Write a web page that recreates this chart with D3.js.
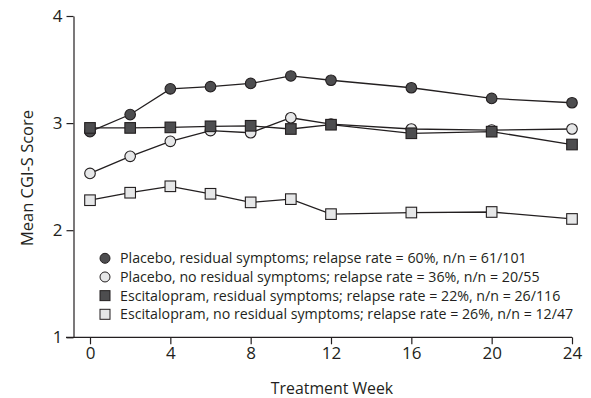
<!DOCTYPE html>
<html>
<head>
<meta charset="utf-8">
<script src="https://cdn.jsdelivr.net/npm/d3@7"></script>
<style>
  body { margin: 0; background: #fff; }
  text { font-family: "Open Sans", "Noto Sans", sans-serif; fill: #231f20; }
</style>
</head>
<body>
<svg id="chart" width="591" height="398"></svg>
<script>
// values
const weeks = [0, 2, 4, 6, 8, 10, 12, 16, 20, 24];
const placeboRes   = [2.92, 3.08, 3.32, 3.34, 3.37, 3.44, 3.40, 3.33, 3.23, 3.19];
const placeboNoRes = [2.53, 2.69, 2.83, 2.93, 2.91, 3.05, 2.99, 2.945, 2.935, 2.945];
const escRes       = [2.955, 2.955, 2.96, 2.97, 2.975, 2.945, 2.985, 2.905, 2.92, 2.80];
const escNoRes     = [2.28, 2.35, 2.41, 2.34, 2.26, 2.29, 2.15, 2.165, 2.17, 2.105];

const xTicks = [0, 4, 8, 12, 16, 20, 24];
const yTicks = [1, 2, 3, 4];

const seriesNames = [
  'Placebo, residual symptoms; relapse rate = 60%, n/n = 61/101',
  'Placebo, no residual symptoms; relapse rate = 36%, n/n = 20/55',
  'Escitalopram, residual symptoms; relapse rate = 22%, n/n = 26/116',
  'Escitalopram, no residual symptoms; relapse rate = 26%, n/n = 12/47'
];

const dark = '#4d4d4f', light = '#e6e7e8', ink = '#231f20';

const series = [
  {name: seriesNames[0], values: placeboRes,   shape: 'circle', fill: dark},
  {name: seriesNames[1], values: placeboNoRes, shape: 'circle', fill: light},
  {name: seriesNames[2], values: escRes,       shape: 'square', fill: dark},
  {name: seriesNames[3], values: escNoRes,     shape: 'square', fill: light}
];

const svg = d3.select('#chart');

const x = d3.scaleLinear().domain([0, 24]).range([90, 572]);
const y = d3.scaleLinear().domain([1, 4]).range([337.3, 16]);
const axisX = 73.5;

// x axis (line runs a little left of the y axis)
const gx = svg.append('g')
    .attr('transform', 'translate(0,' + y(1) + ')')
    .call(d3.axisBottom(x).tickValues(xTicks).tickSize(7).tickPadding(3).tickSizeOuter(0));
gx.select('.domain').attr('d', 'M66,0H' + x(24));

// y axis
const gy = svg.append('g')
    .attr('transform', 'translate(' + axisX + ',0)')
    .call(d3.axisLeft(y).tickValues(yTicks).tickFormat(d3.format('d')).tickSize(7).tickPadding(4).tickSizeOuter(0));

svg.selectAll('.domain, .tick line').attr('stroke', ink).attr('stroke-width', 1.2);
svg.selectAll('.tick text').attr('font-size', 17).attr('fill', ink)
    .style('font-family', '"Open Sans", sans-serif');

// lines + markers
const line = d3.line()
    .x((d, i) => x(weeks[i]))
    .y(d => y(d));

series.forEach(s => {
  const g = svg.append('g');
  g.append('path')
    .attr('d', line(s.values))
    .attr('fill', 'none')
    .attr('stroke', ink)
    .attr('stroke-width', 1.3);

  const pts = g.selectAll('.pt').data(s.values).enter();
  if (s.shape === 'circle') {
    pts.append('circle')
      .attr('cx', (d, i) => x(weeks[i]))
      .attr('cy', d => y(d))
      .attr('r', 5.3)
      .attr('fill', s.fill)
      .attr('stroke', ink)
      .attr('stroke-width', 1.1);
  } else {
    pts.append('rect')
      .attr('x', (d, i) => x(weeks[i]) - 5.3)
      .attr('y', d => y(d) - 5.3)
      .attr('width', 10.6)
      .attr('height', 10.6)
      .attr('fill', s.fill)
      .attr('stroke', ink)
      .attr('stroke-width', 1.1);
  }
});

// legend
const legend = svg.append('g');
const rowY = d3.scaleLinear().domain([0, 3]).range([258.3, 314.3]);
series.forEach((s, i) => {
  const cy = rowY(i);
  if (s.shape === 'circle') {
    legend.append('circle').attr('cx', 105).attr('cy', cy).attr('r', 5)
      .attr('fill', s.fill).attr('stroke', ink).attr('stroke-width', 1);
  } else {
    legend.append('rect').attr('x', 100).attr('y', cy - 5).attr('width', 10).attr('height', 10)
      .attr('fill', s.fill).attr('stroke', ink).attr('stroke-width', 1);
  }
  legend.append('text')
    .attr('class', 'leg')
    .attr('x', 120)
    .attr('y', cy + 5)
    .attr('font-size', 14)
    .text(s.name);
});

// axis titles
const xTitle = svg.append('text')
  .attr('x', 332)
  .attr('y', 394)
  .attr('text-anchor', 'middle')
  .attr('font-size', 16)
  .text('Treatment Week');

const yTitle = svg.append('text')
  .attr('transform', 'translate(33,178) rotate(-90)')
  .attr('text-anchor', 'middle')
  .attr('font-size', 16)
  .text('Mean CGI-S Score');

// size text so its width matches what the figure shows
function fitAll() {
  const lastRow = legend.selectAll('.leg').filter((d, i) => i === 3);
  const w = lastRow.node().getBBox().width;
  const f = +lastRow.attr('font-size');
  legend.selectAll('.leg').attr('font-size', f * (573 - 120) / w);

  [[xTitle, 123], [yTitle, 136]].forEach(([sel, target]) => {
    const bw = sel.node().getBBox().width;
    sel.attr('font-size', +sel.attr('font-size') * target / bw);
  });
}
fitAll();
if (document.fonts) document.fonts.ready.then(fitAll);
</script>
</body>
</html>
